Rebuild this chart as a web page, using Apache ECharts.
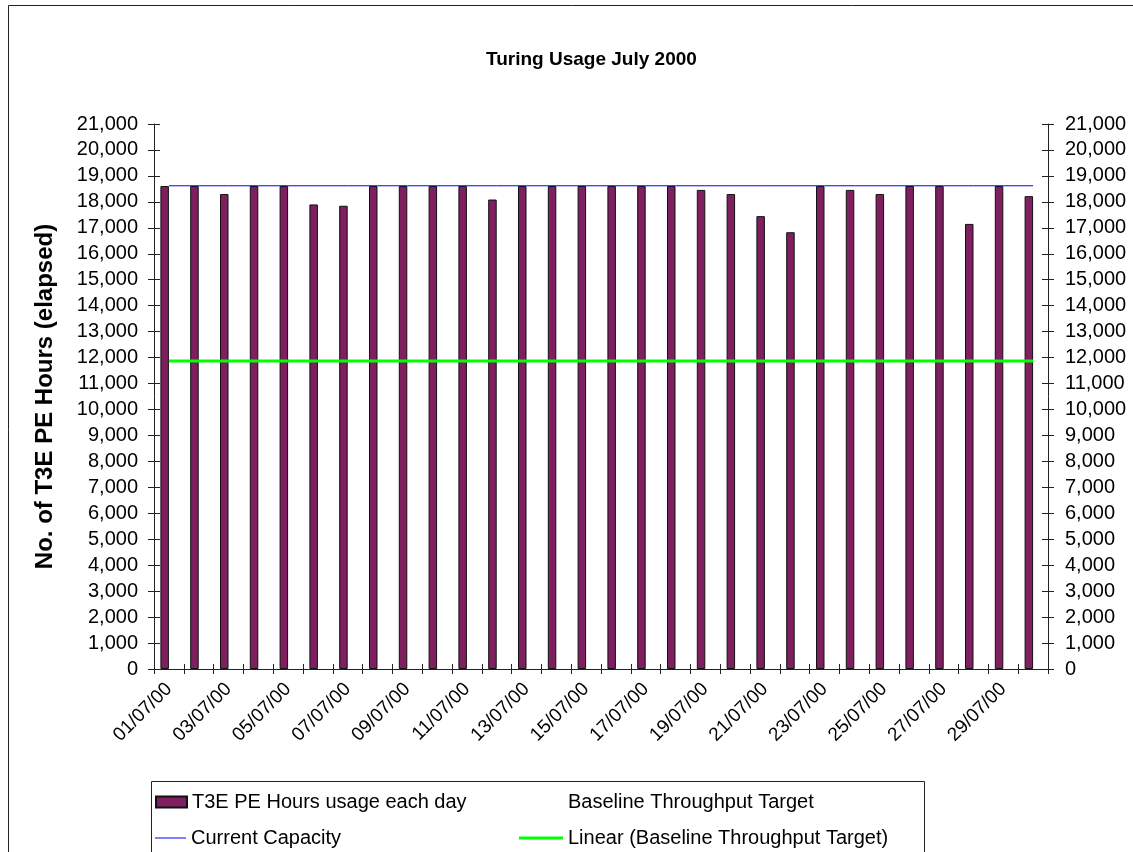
<!DOCTYPE html>
<html>
<head>
<meta charset="utf-8">
<script src="https://cdn.jsdelivr.net/npm/echarts@6/dist/echarts.min.js"></script>
<style>
  html, body { margin: 0; padding: 0; background: #fff; }
  #main { width: 1133px; height: 852px; }
</style>
</head>
<body>
<div id="main"></div>
<script>
// daily data, July 2000
var days = ['01/07/00','02/07/00','03/07/00','04/07/00','05/07/00','06/07/00','07/07/00','08/07/00','09/07/00','10/07/00',
            '11/07/00','12/07/00','13/07/00','14/07/00','15/07/00','16/07/00','17/07/00','18/07/00','19/07/00','20/07/00',
            '21/07/00','22/07/00','23/07/00','24/07/00','25/07/00','26/07/00','27/07/00','28/07/00','29/07/00','30/07/00'];
var usage = [18610, 18610, 18300, 18610, 18610, 17900, 17850, 18610, 18610, 18610,
             18610, 18090, 18610, 18610, 18610, 18610, 18610, 18610, 18460, 18300,
             17450, 16830, 18610, 18460, 18300, 18610, 18610, 17150, 18610, 18220];
var baseline = [11870, 11870, 11870, 11870, 11870, 11870, 11870, 11870, 11870, 11870,
                11870, 11870, 11870, 11870, 11870, 11870, 11870, 11870, 11870, 11870,
                11870, 11870, 11870, 11870, 11870, 11870, 11870, 11870, 11870, 11870];
var capacity = [18620, 18620, 18620, 18620, 18620, 18620, 18620, 18620, 18620, 18620,
                18620, 18620, 18620, 18620, 18620, 18620, 18620, 18620, 18620, 18620,
                18620, 18620, 18620, 18620, 18620, 18620, 18620, 18620, 18620, 18620];
var trend = [11870, 11870, 11870, 11870, 11870, 11870, 11870, 11870, 11870, 11870,
             11870, 11870, 11870, 11870, 11870, 11870, 11870, 11870, 11870, 11870,
             11870, 11870, 11870, 11870, 11870, 11870, 11870, 11870, 11870, 11870];

var font = 'Liberation Sans, Arial, sans-serif';
var fmt = function (v) { return Number(v).toLocaleString('en-US'); };

var legendText = { fontFamily: font, fontSize: 20, color: '#000' };

var option = {
    backgroundColor: '#fff',
    animation: false,
    title: {
        text: 'Turing Usage July 2000',
        left: 481,
        top: 45,
        textStyle: { fontFamily: font, fontSize: 19, fontWeight: 'bold', color: '#000' }
    },
    graphic: [
        { type: 'rect', shape: { x: 8.5, y: 5.5, width: 1200, height: 900 },
          style: { fill: 'none', stroke: '#222', lineWidth: 1 }, silent: true },
        { type: 'rect', shape: { x: 151.5, y: 781.5, width: 773, height: 120 },
          style: { fill: 'none', stroke: '#222', lineWidth: 1 }, silent: true }
    ],
    legend: [
        { data: [{ name: 'T3E PE Hours usage each day', icon: 'rect' }], left: 150, top: 787,
          itemWidth: 31, itemHeight: 11, textStyle: legendText },
        { data: ['Baseline Throughput Target'], left: 514, top: 787, itemWidth: 44, itemHeight: 12,
          textStyle: legendText },
        { data: [{ name: 'Current Capacity', icon: 'rect' }], left: 150, top: 823,
          itemWidth: 31, itemHeight: 1, textStyle: legendText },
        { data: [{ name: 'Linear (Baseline Throughput Target)', icon: 'rect' }], left: 514, top: 823,
          itemWidth: 44, itemHeight: 3, textStyle: legendText }
    ],
    grid: { left: 154, right: 85, top: 124, bottom: 183 },
    xAxis: [
        {
            type: 'category',
            data: days,
            position: 'bottom',
            axisLine: { lineStyle: { color: '#222', width: 1 } },
            axisTick: { show: true, interval: 0, length: 5, lineStyle: { color: '#222' } },
            axisLabel: { interval: 1, rotate: 45, margin: 17, color: '#000', fontFamily: font, fontSize: 19 }
        },
        {
            type: 'category',
            data: days,
            position: 'bottom',
            axisLine: { show: false },
            axisTick: { show: true, inside: true, interval: 0, length: 5, lineStyle: { color: '#222' } },
            axisLabel: { show: false }
        }
    ],
    yAxis: [
        {
            type: 'value', position: 'left', min: 0, max: 21000, interval: 1000,
            name: 'No. of T3E PE Hours (elapsed)',
            nameLocation: 'middle', nameRotate: 90, nameGap: 97,
            nameTextStyle: { fontFamily: font, fontSize: 24, fontWeight: 'bold', color: '#000' },
            axisLine: { show: true, lineStyle: { color: '#222' } },
            axisTick: { show: true, length: 6, lineStyle: { color: '#222' } },
            axisLabel: { formatter: fmt, margin: 16, color: '#000', fontFamily: font, fontSize: 20 },
            splitLine: { show: false }
        },
        {
            type: 'value', position: 'right', min: 0, max: 21000, interval: 1000,
            axisLine: { show: true, lineStyle: { color: '#222' } },
            axisTick: { show: true, length: 6, lineStyle: { color: '#222' } },
            axisLabel: { formatter: fmt, margin: 17, color: '#000', fontFamily: font, fontSize: 20 },
            splitLine: { show: false }
        },
        {
            type: 'value', position: 'left', min: 0, max: 21000, interval: 1000,
            axisLine: { show: false },
            axisTick: { show: true, inside: true, length: 6, lineStyle: { color: '#222' } },
            axisLabel: { show: false },
            splitLine: { show: false }
        },
        {
            type: 'value', position: 'right', min: 0, max: 21000, interval: 1000,
            axisLine: { show: false },
            axisTick: { show: true, inside: true, length: 6, lineStyle: { color: '#222' } },
            axisLabel: { show: false },
            splitLine: { show: false }
        }
    ],
    series: [
        {
            name: 'T3E PE Hours usage each day',
            type: 'bar',
            data: usage,
            barWidth: 8.5,
            barGap: '0%',
            itemStyle: { color: '#7f1f5f', borderColor: '#111', borderWidth: 1 }
        },
        {
            name: 'Baseline Throughput Target',
            type: 'bar',
            data: baseline,
            barWidth: 8.5,
            itemStyle: { color: 'rgba(0,0,0,0)', borderWidth: 0 }
        },
        {
            name: 'Current Capacity',
            type: 'line',
            data: capacity,
            symbol: 'none',
            z: 5,
            lineStyle: { color: '#0000ff', width: 1 },
            itemStyle: { color: '#0000ff' }
        },
        {
            name: 'Linear (Baseline Throughput Target)',
            type: 'line',
            data: trend,
            symbol: 'none',
            z: 5,
            lineStyle: { color: '#00ff00', width: 3 },
            itemStyle: { color: '#00ff00' }
        }
    ]
};

var chart = echarts.init(document.getElementById('main'));
chart.setOption(option);
</script>
</body>
</html>
